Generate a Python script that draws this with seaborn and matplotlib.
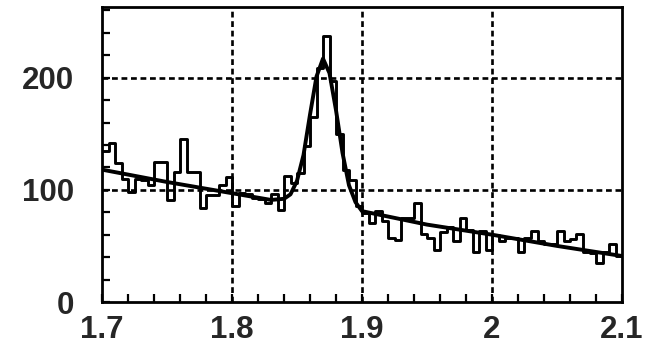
import numpy as np
import pandas as pd
import matplotlib
matplotlib.use("Agg")
import matplotlib.pyplot as plt
import seaborn as sns
from matplotlib.ticker import MultipleLocator, FixedLocator, FixedFormatter

# ---- data ----
bin_lo = 1.70
bin_hi = 2.10
n_bins = 80
counts = [135, 142, 124, 110, 98, 110, 109, 104, 125, 125,
          91, 116, 145, 116, 116, 84, 95, 95, 104, 111,
          86, 97, 96, 93, 92, 88, 96, 82, 112, 106,
          115, 139, 165, 209, 237, 197, 150, 118, 109, 86,
          79, 70, 81, 72, 57, 55, 75, 75, 88, 61,
          57, 46, 62, 67, 54, 75, 64, 45, 63, 46,
          60, 54, 57, 57, 45, 57, 63, 54, 52, 52,
          63, 54, 56, 61, 45, 44, 35, 45, 52, 41]

curve_x = [1.700, 1.750, 1.800, 1.830, 1.840, 1.845, 1.850, 1.855, 1.860,
           1.865, 1.870, 1.875, 1.880, 1.885, 1.890, 1.895, 1.900,
           1.950, 2.000, 2.050, 2.100]
curve_y = [118, 107, 97, 91, 92, 96, 108, 131, 167,
           201, 217, 204, 171, 133, 104, 89, 81,
           69, 60, 50, 41]

x_ticks = [1.7, 1.8, 1.9, 2.0, 2.1]
x_tick_labels = ["1.7", "1.8", "1.9", "2", "2.1"]
y_ticks = [0, 100, 200]
y_tick_labels = ["0", "100", "200"]

# ---- build tables ----
edges = np.linspace(bin_lo, bin_hi, n_bins + 1)
centers = (edges[:-1] + edges[1:]) / 2
hist_df = pd.DataFrame({"x": centers, "w": counts})
curve_df = pd.DataFrame({"x": curve_x, "y": curve_y})

sns.set_theme(style="white")
plt.rcParams["font.family"] = ["Liberation Sans", "DejaVu Sans"]

fig = plt.figure(figsize=(6.59, 3.52), dpi=100)
ax = fig.add_axes([102 / 659, 1 - 302 / 352, 520 / 659, 295 / 352])

# grid
grid_kw = dict(color="black", lw=1.9, linestyle=(0, (2.2, 1.4)), zorder=1)
for gx in [1.8, 1.9, 2.0]:
    ax.axvline(gx, **grid_kw)
for gy in [100, 200]:
    ax.axhline(gy, **grid_kw)

sns.histplot(data=hist_df, x="x", weights="w", bins=n_bins,
             binrange=(bin_lo, bin_hi), element="step",
             fill=False, color="black", linewidth=2.1, ax=ax, zorder=3)
sns.lineplot(data=curve_df, x="x", y="y", color="black", linewidth=2.8,
             ax=ax, zorder=4, sort=True)

ax.set_xlim(bin_lo, bin_hi)
ax.set_ylim(0, 263)
ax.set_xlabel("")
ax.set_ylabel("")

ax.xaxis.set_major_locator(FixedLocator(x_ticks))
ax.xaxis.set_major_formatter(FixedFormatter(x_tick_labels))
ax.xaxis.set_minor_locator(MultipleLocator(0.02))
ax.yaxis.set_major_locator(FixedLocator(y_ticks))
ax.yaxis.set_major_formatter(FixedFormatter(y_tick_labels))
ax.yaxis.set_minor_locator(MultipleLocator(20))

ax.tick_params(which="both", direction="in", length=6, width=1.6,
               color="black", bottom=True, left=True, top=False, right=False)
ax.tick_params(axis="x", which="major", labelsize=22.5, pad=9)
ax.tick_params(axis="y", which="major", labelsize=22.5, pad=20)
for lab in ax.get_xticklabels() + ax.get_yticklabels():
    lab.set_fontweight("bold")

for side in ["left", "bottom", "right", "top"]:
    ax.spines[side].set_visible(True)
    ax.spines[side].set_color("black")
    ax.spines[side].set_linewidth(2.0)
ax.grid(False)

fig.savefig("out.png", dpi=100)
